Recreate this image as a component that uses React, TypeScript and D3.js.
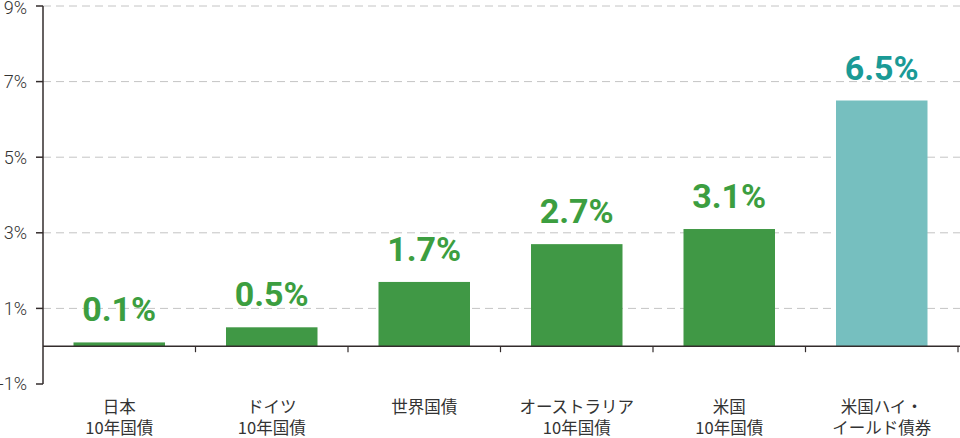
import React from "react";
import * as d3 from "d3";

const categories = [
  ["日本", "10年国債"],
  ["ドイツ", "10年国債"],
  ["世界国債", ""],
  ["オーストラリア", "10年国債"],
  ["米国", "10年国債"],
  ["米国ハイ・", "イールド債券"],
];
const values = [0.1, 0.5, 1.7, 2.7, 3.1, 6.5];
const valueLabels = ["0.1%", "0.5%", "1.7%", "2.7%", "3.1%", "6.5%"];
const highlight = [false, false, false, false, false, true];
const yTicks = [-1, 1, 3, 5, 7, 9];
const gridTicks = [1, 3, 5, 7, 9];

const W = 960;
const H = 438;

export default function App() {
  const x = d3
    .scaleBand<number>()
    .domain(d3.range(categories.length))
    .range([43, 958])
    .paddingInner(0.4)
    .paddingOuter(0.2);
  const y = d3.scaleLinear().domain([-1, 9]).range([384, 6]);
  const step = x.step();

  return (
    <svg
      width={W}
      height={H}
      style={{ position: "absolute", left: 0, top: 0, display: "block" }}
      fontFamily="Roboto, 'Noto Sans CJK JP', sans-serif"
    >
      {gridTicks.map((t) => (
        <line
          key={"g" + t}
          x1={43}
          x2={960}
          y1={y(t)}
          y2={y(t)}
          stroke="#c4c4c4"
          strokeWidth={1}
          strokeDasharray="8 5"
        />
      ))}
      {values.map((v, i) => (
        <rect
          key={"b" + i}
          x={x(i)}
          y={y(Math.max(v, 0))}
          width={x.bandwidth()}
          height={Math.abs(y(v) - y(0))}
          fill={highlight[i] ? "#76bfbf" : "#409845"}
        />
      ))}
      {values.map((v, i) => (
        <text
          key={"v" + i}
          x={(x(i) as number) + x.bandwidth() / 2}
          y={y(v) - 21}
          textAnchor="middle"
          fontSize={34}
          fontWeight={700}
          fill={highlight[i] ? "#1a9a96" : "#3c9e40"}
        >
          {valueLabels[i]}
        </text>
      ))}
      <line x1={43} x2={960} y1={y(0)} y2={y(0)} stroke="#332c2c" strokeWidth={1.5} />
      {d3.range(1, categories.length + 1).map((i) => {
        const xx = Math.min(43 + step * i, 959);
        return (
          <line
            key={"s" + i}
            x1={xx}
            x2={xx}
            y1={y(0)}
            y2={y(0) + 6}
            stroke="#332c2c"
            strokeWidth={1.2}
          />
        );
      })}
      <line x1={43} x2={43} y1={y(9)} y2={y(-1)} stroke="#332c2c" strokeWidth={1.5} />
      {yTicks.map((t) => (
        <g key={"t" + t}>
          <line x1={36} x2={43} y1={y(t)} y2={y(t)} stroke="#332c2c" strokeWidth={1.5} />
          <text
            x={27}
            y={Math.max(y(t), 8)}
            dy="0.36em"
            textAnchor="end"
            fontSize={18}
            fontWeight={300}
            fill="#333"
          >
            {t + "%"}
          </text>
        </g>
      ))}
      {categories.map((c, i) => {
        const cx = (x(i) as number) + x.bandwidth() / 2;
        return (
          <text
            key={"c" + i}
            x={cx}
            textAnchor="middle"
            fontSize={16.5}
            fill="#333"
            fontFamily="'Noto Sans CJK JP', sans-serif"
          >
            <tspan x={cx} y={413}>
              {c[0]}
            </tspan>
            {c[1] && (
              <tspan x={cx} y={434}>
                {c[1]}
              </tspan>
            )}
          </text>
        );
      })}
    </svg>
  );
}
